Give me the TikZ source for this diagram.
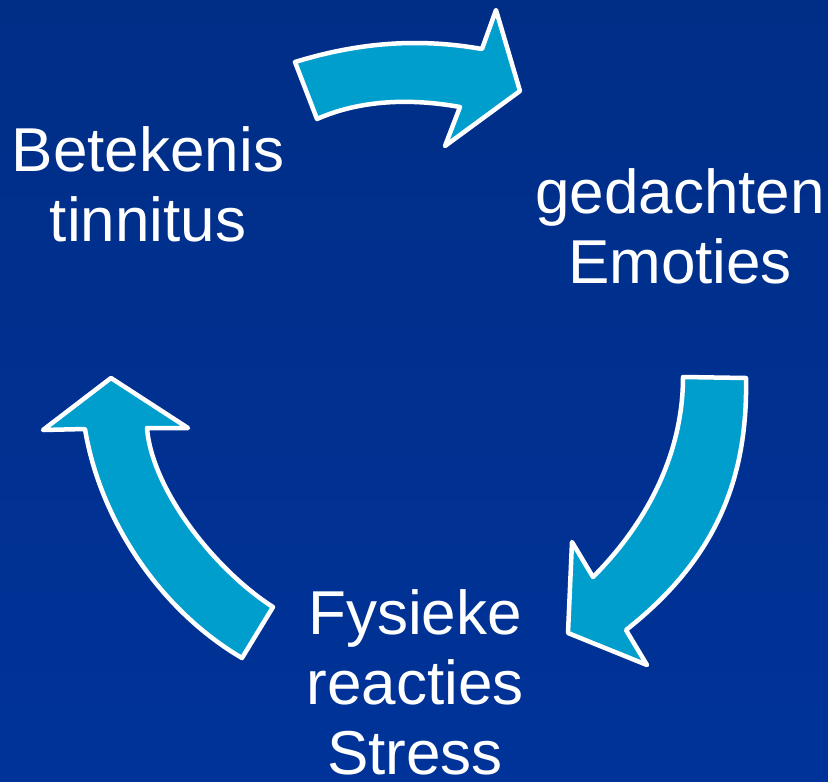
\documentclass[tikz,border=0pt]{standalone}
\usepackage{fontspec}
\setmainfont{Liberation Sans}

\definecolor{achtergrondboven}{RGB}{0,46,135}
\definecolor{achtergrondonder}{RGB}{0,51,153}
\definecolor{pijlblauw}{RGB}{0,158,204}

\tikzset{
	pijl/.style={fill=pijlblauw, draw=white, line width=4.5pt, line join=round},
	woord/.style={text=white, align=center, inner sep=0pt, anchor=base,
		font=\fontsize{62}{70}\selectfont}
}

\begin{document}
\begin{tikzpicture}[x=1pt, y=-1pt]
			\useasboundingbox (0, 0) rectangle (828, 782);
			\shade [top color=achtergrondboven, bottom color=achtergrondonder] (0, 0) rectangle (828, 782);

			% pijl boven
			\draw [pijl] (295, 62) .. controls (360, 42) and (420, 38) .. (482, 49)
				-- (496, 10) -- (520, 91) -- (445, 146) -- (460, 107)
				.. controls (410, 98) and (360, 100) .. (317, 119) -- cycle;
			% pijl rechts
			\draw [pijl] (683, 377) -- (746, 378)
				.. controls (748, 480) and (715, 560) .. (626, 630)
				-- (647, 665) -- (568, 633) -- (572, 542) -- (593, 577)
				.. controls (650, 520) and (683, 450) .. (683, 377) -- cycle;
			% pijl links
			\draw [pijl] (273, 607) -- (242, 658)
				.. controls (160, 610) and (100, 520) .. (85, 429)
				-- (43, 430) -- (111, 378) -- (188, 428) -- (147, 428)
				.. controls (152, 490) and (215, 570) .. (273, 607) -- cycle;

			% anker op de basislijn van de laatste regel
			\node (betekenis) at (148, 241) [woord] {Betekenis\\tinnitus};
			\node (gedachten) at (680, 283) [woord] {gedachten\\Emoties};
			\node (fysiek) at (415, 774) [woord] {Fysieke\\reacties\\Stress};
		\end{tikzpicture}
\end{document}
